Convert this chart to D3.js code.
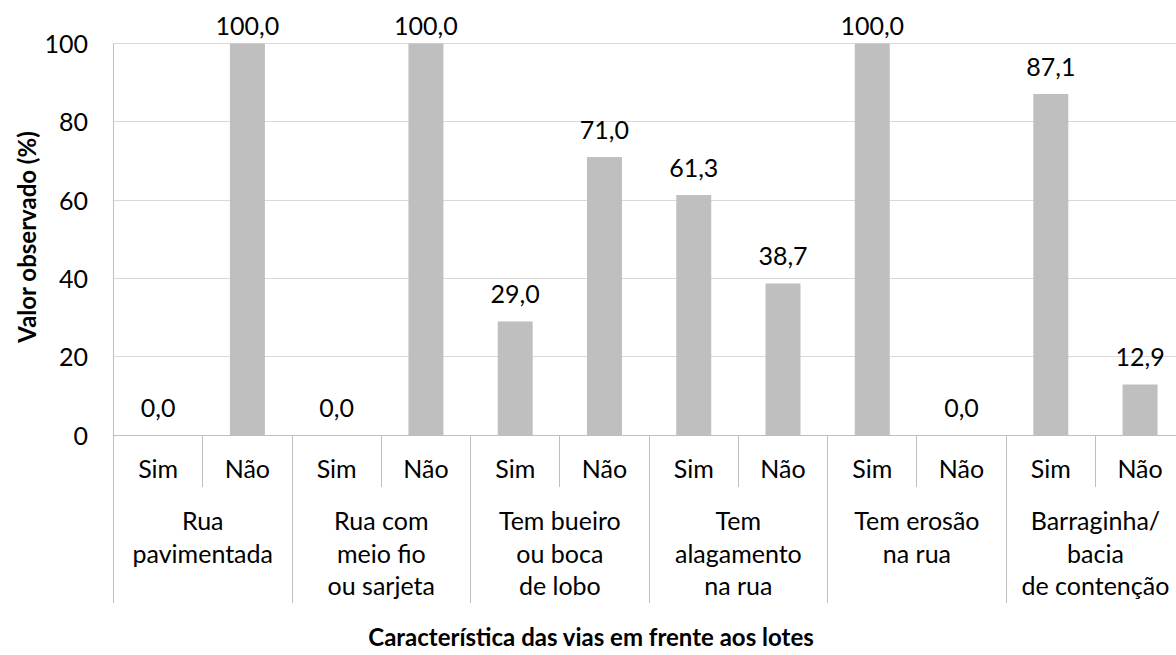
<!DOCTYPE html>
<html>
<head>
<meta charset="utf-8">
<script src="https://cdn.jsdelivr.net/npm/d3@7"></script>
<style>
  html, body { margin: 0; padding: 0; background: #fff; }
  svg { display: block; }
  text { font-family: Lato, "Open Sans", sans-serif; fill: #000; }
</style>
</head>
<body>
<svg id="chart" width="1176" height="655"></svg>
<script>
// Street characteristics in front of the lots: share of observations (%)
const groupLabels = [
  ["Rua", "pavimentada"],
  ["Rua com", "meio fio", "ou sarjeta"],
  ["Tem bueiro", "ou boca", "de lobo"],
  ["Tem", "alagamento", "na rua"],
  ["Tem erosão", "na rua"],
  ["Barraginha/", "bacia", "de contenção"]
];
const answers = ["Sim", "Não"];
const values = [0.0, 100.0, 0.0, 100.0, 29.0, 71.0, 61.3, 38.7, 100.0, 0.0, 87.1, 12.9];
const yTicks = [0, 20, 40, 60, 80, 100];
const yTitle = "Valor observado (%)";
const xTitle = "Característica das vias em frente aos lotes";

const svg = d3.select("#chart");
const fontSize = 25;
const titleSize = 24;

const plot = { left: 113.5, right: 1184.7, top: 43.5, bottom: 435 };

const bars = values.map((v, i) => ({
  i, v,
  group: Math.floor(i / answers.length),
  answer: answers[i % answers.length]
}));

const x = d3.scaleBand()
  .domain(d3.range(values.length))
  .range([plot.left, plot.right])
  .paddingInner(0.608)
  .paddingOuter(0.304);

const xGroup = d3.scaleBand()
  .domain(d3.range(groupLabels.length))
  .range([plot.left, plot.right]);

const step = x.step();

const y = d3.scaleLinear().domain([0, 100]).range([plot.bottom, plot.top]);

const fmt = v => d3.format(".1f")(v).replace(".", ",");
const crisp = v => Math.round(v - 0.5) + 0.5;

// horizontal gridlines
svg.append("g")
  .selectAll("line")
  .data(yTicks.filter(t => t > 0))
  .join("line")
  .attr("x1", plot.left).attr("x2", 1176)
  .attr("y1", d => crisp(y(d))).attr("y2", d => crisp(y(d)))
  .attr("stroke", "#d9d9d9").attr("stroke-width", 1);

// y axis: labels only, line drawn separately
const yAxis = d3.axisLeft(y).tickValues(yTicks).tickSize(0).tickPadding(0);
const yg = svg.append("g").attr("transform", `translate(88,0)`).call(yAxis);
yg.select(".domain").remove();
yg.selectAll("text")
  .attr("font-size", fontSize)
  .attr("font-family", "Lato, 'Open Sans', sans-serif")
  .attr("fill", "#000")
  .attr("dy", "0.36em");

// bars
svg.append("g")
  .selectAll("rect")
  .data(bars)
  .join("rect")
  .attr("x", d => x(d.i))
  .attr("width", x.bandwidth())
  .attr("y", d => y(d.v))
  .attr("height", d => y(0) - y(d.v))
  .attr("fill", "#bfbfbf");

// value labels
svg.append("g")
  .selectAll("text")
  .data(bars)
  .join("text")
  .attr("x", d => x(d.i) + x.bandwidth() / 2)
  .attr("y", d => Math.max(y(d.v) - 18, 35))
  .attr("text-anchor", "middle")
  .attr("font-size", fontSize)
  .text(d => fmt(d.v));

// axis lines
const axisColor = "#bfbfbf";
const lines = svg.append("g").attr("stroke", axisColor).attr("stroke-width", 1);
lines.append("line")
  .attr("x1", plot.left).attr("x2", 1176)
  .attr("y1", crisp(plot.bottom)).attr("y2", crisp(plot.bottom));
lines.append("line")
  .attr("x1", crisp(plot.left)).attr("x2", crisp(plot.left))
  .attr("y1", plot.top).attr("y2", 603);

// dividers between Sim / Não within each group
lines.selectAll(".sub")
  .data(bars.filter(d => d.i % answers.length !== 0))
  .join("line")
  .attr("class", "sub")
  .attr("x1", d => crisp(plot.left + d.i * step))
  .attr("x2", d => crisp(plot.left + d.i * step))
  .attr("y1", plot.bottom).attr("y2", 487);

// dividers between groups
lines.selectAll(".grp")
  .data(d3.range(1, groupLabels.length + 1))
  .join("line")
  .attr("class", "grp")
  .attr("x1", d => crisp(xGroup(d - 1) + xGroup.bandwidth()))
  .attr("x2", d => crisp(xGroup(d - 1) + xGroup.bandwidth()))
  .attr("y1", plot.bottom).attr("y2", 603);

// Sim / Não labels
svg.append("g")
  .selectAll("text")
  .data(bars)
  .join("text")
  .attr("x", d => plot.left + (d.i + 0.5) * step)
  .attr("y", 478)
  .attr("text-anchor", "middle")
  .attr("font-size", fontSize)
  .text(d => d.answer);

// group labels (multi-line)
const gl = svg.append("g")
  .selectAll("text")
  .data(groupLabels)
  .join("text")
  .attr("text-anchor", "middle")
  .attr("font-size", fontSize)
  .attr("x", (d, i) => xGroup(i) + xGroup.bandwidth() / 2)
  .attr("y", 530);
gl.selectAll("tspan")
  .data(d => d)
  .join("tspan")
  .attr("x", function () { return this.parentNode.getAttribute("x"); })
  .attr("dy", (d, i) => i === 0 ? 0 : 32.5)
  .text(d => d);

// axis titles
svg.append("text")
  .attr("transform", "translate(36,237) rotate(-90)")
  .attr("text-anchor", "middle")
  .attr("font-size", titleSize)
  .attr("font-weight", "bold")
  .text(yTitle);

svg.append("text")
  .attr("x", 591)
  .attr("y", 646)
  .attr("text-anchor", "middle")
  .attr("font-size", titleSize)
  .attr("font-weight", "bold")
  .text(xTitle);
</script>
</body>
</html>
